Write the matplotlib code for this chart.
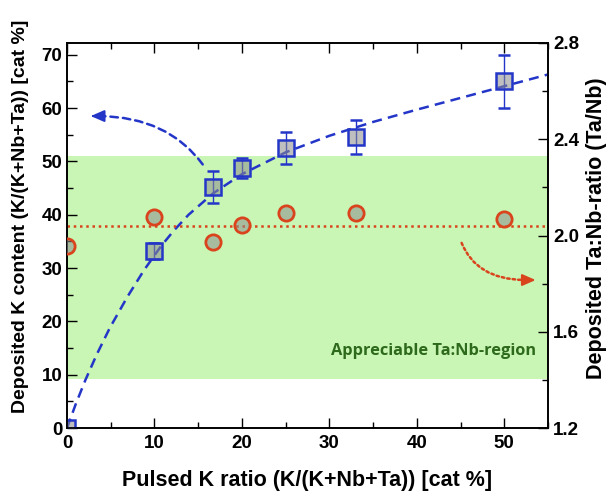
import matplotlib
matplotlib.use("Agg")
from matplotlib import pyplot as plt
from matplotlib.ticker import MultipleLocator, FormatStrFormatter

plt.rcParams['font.family'] = ['Liberation Sans', 'DejaVu Sans']
plt.rcParams['font.weight'] = 'bold'

# Data ---------------------------------------------------------------------------------------------------------------#
pulsed_k = [0, 10, 16.7, 20, 25, 33, 50]

# Deposited K content [cat %] (left axis) #
k_content = [0, 33.2, 45.2, 48.8, 52.5, 54.6, 65.0]
k_err = [0, 1.5, 3.0, 1.9, 3.0, 3.2, 5.0]

# Deposited Ta:Nb ratio (right axis) #
ta_nb = [1.958, 2.076, 1.974, 2.044, 2.092, 2.092, 2.069]
ta_nb_mean = 2.04

# Fit curve #
fit_x = [0, 1, 2.1, 3.4, 4.9, 6.9, 8.8, 10.7, 12.2, 13.9, 16.7, 20, 25, 30, 35, 40, 45, 50, 55]
fit_y = [0, 4.5, 9.0, 13.8, 18.8, 24.6, 29.6, 34.0, 37.0, 40.0, 44.0, 47.6, 51.7, 54.8, 57.4, 59.7, 61.9, 64.1, 66.3]

# Appreciable Ta:Nb region (in left axis units) #
band = [9.2, 51.0]

blue = '#2436c8'
red = '#d9441c'

# Plotting -----------------------------------------------------------------------------------------------------------#
fig = plt.figure(figsize=(6.11, 4.93), dpi=100)
ax = fig.add_axes([0.1097, 0.1318, 0.7873, 0.781])
ax2 = ax.twinx()

ax.axhspan(band[0], band[1], color='#c9f5b5', zorder=0, lw=0)
ax.text(53.6, 14.4, 'Appreciable Ta:Nb-region', color='#2e6a1c', fontsize=11.8,
        fontweight='bold', ha='right', va='center', family=['Open Sans', 'DejaVu Sans'])

ax.plot(fit_x, fit_y, ls=(0, (4, 2.5)), color=blue, lw=1.8, zorder=3)
ax.errorbar(pulsed_k, k_content, yerr=k_err, fmt='s', ms=11, mfc=(0.55, 0.55, 0.55, 0.55),
            mec=blue, mew=1.8, ecolor=blue, elinewidth=1.0, capsize=4, capthick=1.0, zorder=4)

ax2.axhline(ta_nb_mean, ls=(0, (1, 1.5)), color=red, lw=1.8)
ax2.plot(pulsed_k, ta_nb, 'o', ms=11, mfc=(0.55, 0.55, 0.55, 0.55), mec=red, mew=2.0, zorder=4)

# Arrows: dashed body + solid head #
ax.annotate('', xy=(3.4, 58.5), xytext=(15.7, 49.0),
            arrowprops=dict(arrowstyle='-', color=blue, lw=1.8, ls=(0, (3, 2)),
                            connectionstyle='angle3,angleA=125,angleB=0'))
ax.annotate('', xy=(2.4, 58.5), xytext=(3.6, 58.5),
            arrowprops=dict(arrowstyle='-|>,head_length=0.8,head_width=0.35', color=blue, lw=1.5))
ax2.annotate('', xy=(52.5, 1.815), xytext=(45.0, 1.98),
             arrowprops=dict(arrowstyle='-', color=red, lw=1.8, ls=(0, (1, 1.2)),
                             connectionstyle='angle3,angleA=110,angleB=0'))
ax2.annotate('', xy=(53.9, 1.815), xytext=(52.6, 1.815),
             arrowprops=dict(arrowstyle='-|>,head_length=0.8,head_width=0.35', color=red, lw=1.5))

ax.set_xlim(0, 55)
ax.set_ylim(0, 72.2)
ax2.set_ylim(1.2, 2.8)

ax.xaxis.set_major_locator(MultipleLocator(10))
ax.xaxis.set_minor_locator(MultipleLocator(5))
ax.yaxis.set_major_locator(MultipleLocator(10))
ax.yaxis.set_minor_locator(MultipleLocator(5))
ax2.yaxis.set_major_locator(MultipleLocator(0.4))
ax2.yaxis.set_minor_locator(MultipleLocator(0.2))
ax2.yaxis.set_major_formatter(FormatStrFormatter('%.1f'))

ax.tick_params(which='both', direction='in', top=True, labelsize=13.5, width=1.0)
ax.tick_params(which='major', length=7)
ax.tick_params(which='minor', length=4)
ax.tick_params(axis='x', pad=5)
ax2.tick_params(which='both', direction='in', labelsize=13.5, width=1.0)
ax2.tick_params(which='major', length=7)
ax2.tick_params(which='minor', length=4)
for a in (ax, ax2):
    for s in a.spines.values():
        s.set_linewidth(1.2)
    for lab in a.get_xticklabels() + a.get_yticklabels():
        lab.set_fontweight('bold')

# Axis labels #
ax.set_xlabel('Pulsed K ratio (K/(K+Nb+Ta)) [cat %]', fontsize=15.5, fontweight='bold')
ax.set_ylabel('Deposited K content (K/(K+Nb+Ta)) [cat %]', fontsize=14, fontweight='bold')
ax2.set_ylabel('Deposited Ta:Nb-ratio (Ta/Nb)', fontsize=15.5, fontweight='bold')
ax.xaxis.label.set_verticalalignment('center')
ax.yaxis.label.set_verticalalignment('center')
ax2.yaxis.label.set_verticalalignment('center')
ax.xaxis.set_label_coords(0.50, -0.135)
ax.yaxis.set_label_coords(-0.096, 0.55)
ax2.yaxis.set_label_coords(1.10, 0.52)

fig.savefig('out.png', dpi=100)
